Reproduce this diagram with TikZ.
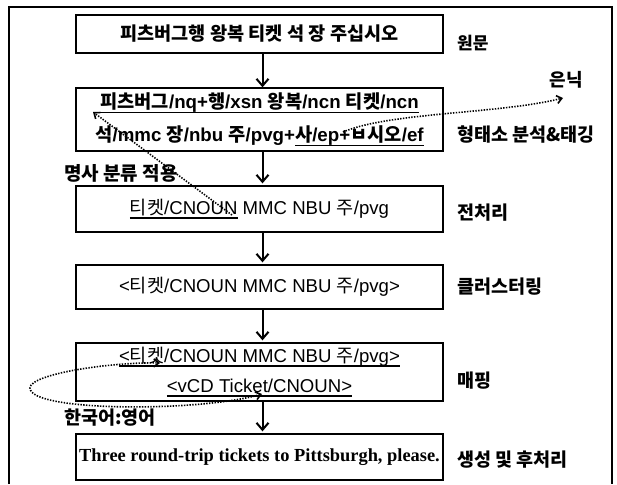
\documentclass[tikz,border=0pt]{standalone}
\usepackage{fontspec}
\setmainfont{Liberation Sans}
\newfontfamily\kr{Noto Sans CJK KR}
\newfontfamily\tms{Liberation Serif}
\usetikzlibrary{arrows.meta}
\newcommand\K[1]{{\kr #1}}
\newcommand\ulx[1]{\setbox0\hbox{#1}\leavevmode\rlap{\rule[-5pt]{\wd0}{1.8pt}}\box0\relax}
\tikzset{
  box/.style={draw, line width=1.3pt, minimum width=367pt, inner sep=0pt, align=center,
    font=\fontsize{18.6pt}{22pt}\selectfont},
  lbl/.style={anchor=west, inner sep=0pt, font=\kr\bfseries\fontsize{18.5pt}{22pt}\selectfont},
  arr/.style={line width=2pt, -{Straight Barb[length=7pt,width=12pt,line width=2pt]}},
  dots/.style={line width=1.6pt, dash pattern=on 1.4pt off 1.4pt},
  tip/.tip={Straight Barb[length=5pt,width=8pt,line width=1.6pt]}
}
\begin{document}
\begin{tikzpicture}[x=1pt,y=-1pt]
\useasboundingbox (0,0) rectangle (617,484);
\draw[line width=1.3pt] (9,484) -- (9,7) -- (612,7) -- (612,484);

\node[box, minimum height=38pt, font=\kr\bfseries\fontsize{18.6pt}{21pt}\selectfont] (b1) at (259.5,34)
  {피츠버그행 왕복 티켓 석 장 주십시오};
\node[box, minimum height=63pt, font=\bfseries\fontsize{18.7pt}{33pt}\selectfont] (b2) at (259.5,119.5)
  {\ulx{\K{피츠버그}/nq+\K{행}/xsn \K{왕복}/ncn \K{티켓}/ncn}\\
   \K{석}/mmc \K{장}/nbu \K{주}/pvg+\ulx{\K{사}/ep+\K{ㅂ시오}/ef}};
\node[box, minimum height=46pt] (b3) at (259.5,209)
  {\ulx{\K{티켓}/CNOUN} MMC NBU \K{주}/pvg};
\node[box, minimum height=44pt] (b4) at (259.5,287)
  {<\K{티켓}/CNOUN MMC NBU \K{주}/pvg>};
\node[box, minimum height=58pt, font=\fontsize{18.6pt}{30pt}\selectfont] (b5) at (259.5,372)
  {\ulx{<\K{티켓}/CNOUN MMC NBU \K{주}/pvg>}\\ \ulx{<vCD Ticket/CNOUN>}};
\node[box, minimum height=46pt, font=\tms\bfseries\fontsize{18.4pt}{22pt}\selectfont] (b6) at (259.5,457)
  {Three round-trip tickets to Pittsburgh, please.};

\draw[arr] ([xshift=3pt]b1.south) -- ([xshift=3pt]b2.north);
\draw[arr, shorten >=2pt] ([xshift=3pt]b2.south) -- ([xshift=3pt]b3.north);
\draw[arr, shorten >=2pt] ([xshift=3pt]b3.south) -- ([xshift=3pt]b4.north);
\draw[arr, shorten >=2pt] ([xshift=3pt]b4.south) -- ([xshift=3pt]b5.north);
\draw[arr, shorten >=2pt] ([xshift=3pt]b5.south) -- ([xshift=3pt]b6.north);

\node[lbl, font=\kr\bfseries\fontsize{17pt}{20pt}\selectfont] (l1) at (457,43) {원문};
\node[lbl] (l2) at (457,135) {형태소 분석\&태깅};
\node[lbl] (l3) at (457,213) {전처리};
\node[lbl] (l4) at (457,287) {클러스터링};
\node[lbl] (l5) at (457,381) {매핑};
\node[lbl] (l6) at (457,460) {생성 및 후처리};
\node[inner sep=0pt, font=\kr\bfseries\fontsize{18pt}{20pt}\selectfont] (hid) at (566,80) {은닉};
\node[lbl, font=\kr\bfseries\fontsize{19pt}{22pt}\selectfont] (noun) at (64,173) {명사 분류 적용};
\node[lbl] (kren) at (64,418) {한국어:영어};

\coordinate (pz) at (93,112);
\coordinate (cn) at (232,215);
\draw[dots, -tip] (cn) -- (pz);
\coordinate (ep) at (343,132);
\coordinate (un) at (563,98);
\draw[dots, -tip] (ep) .. controls (390,112) and (500,114) .. (un);
\coordinate (tk) at (160,363);
\coordinate (tc) at (262,394);
\draw[dots, tip-tip] (tc) .. controls (200,412) and (30,412) .. (30,388)
  .. controls (30,374) and (110,362) .. (tk);
\end{tikzpicture}
\end{document}
